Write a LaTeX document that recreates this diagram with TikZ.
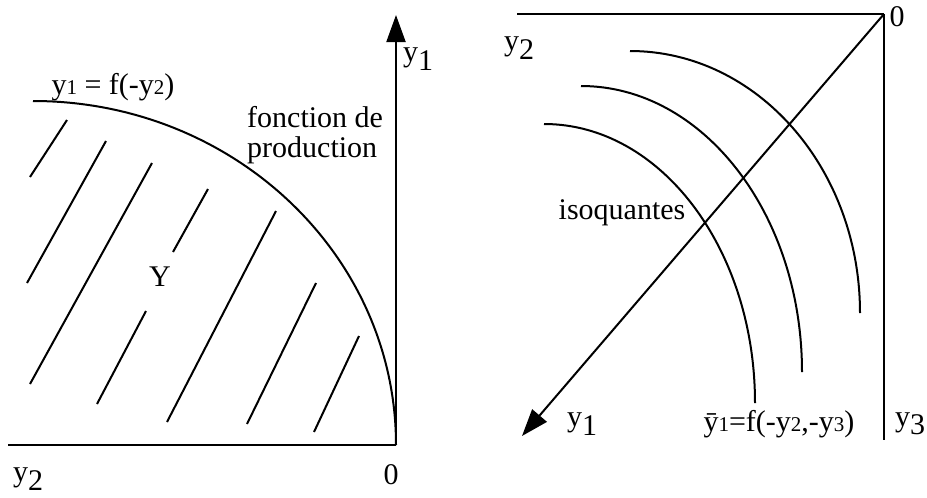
\documentclass[tikz,border=0pt]{standalone}
\usepackage{fontspec}
\setmainfont{Liberation Serif}
\usetikzlibrary{arrows.meta}
\newcommand{\petit}[1]{{\fontsize{21}{21}\selectfont #1}}
\newcommand{\indice}[1]{\raisebox{-0.6ex}{#1}}
\begin{document}
\begin{tikzpicture}[x=1pt, y=-1pt, every node/.style={font=\fontsize{30}{30}\selectfont, inner sep=0pt}]
\tikzset{trait/.style={line width=2pt},
  fleche/.style={trait,-{Triangle[length=27pt,width=19pt]}},
  etiquette/.style={anchor=center}}
\useasboundingbox (0,0) rectangle (927,498);
% ensemble de production
\coordinate (O1) at (396,445);
\coordinate (haut1) at (396,15);
\coordinate (gauche1) at (8,445);
\draw[fleche] (O1) -- (haut1);
\draw[trait] (O1) -- (gauche1);
\draw[trait] (33,101) arc[start angle=-90, end angle=0, x radius=363, y radius=344];
\foreach \a/\b in {{30,177}/{67,120}, {27,283}/{106,141}, {30,384}/{152,163},
  {173,252}/{208,189}, {97,404}/{146,311}, {167,422}/{276,211},
  {247,424}/{316,283}, {314,432}/{359,336}}
  \draw[trait] (\a) -- (\b);
\node[etiquette] (ya) at (418,59) {y\indice{1}};
\node[etiquette] (front) at (113,87) {y\petit{1} = f(-y\petit{2})};
\node[anchor=north west, align=left] (fonc) at (247,106.5) {fonction de\\production};
\node[etiquette] (ens) at (160,277) {Y};
\node[etiquette] (yb) at (28,479) {y\indice{2}};
\node[etiquette] (zero1) at (391,475) {0};
% isoquantes
\coordinate (O2) at (884,14);
\coordinate (gauche2) at (517,14);
\coordinate (bas2) at (884,440);
\coordinate (diag) at (522,436);
\draw[trait] (O2) -- (gauche2);
\draw[trait] (O2) -- (bas2);
\draw[fleche] (O2) -- (diag);
\draw[trait] (630,51) arc[start angle=-90, end angle=0, x radius=230, y radius=262];
\draw[trait] (581,86) arc[start angle=-90, end angle=0, x radius=221, y radius=286];
\draw[trait] (544,124) arc[start angle=-90, end angle=0, x radius=211, y radius=279];
\node[etiquette] (zero2) at (897,17) {0};
\node[etiquette] (yc) at (519,48) {y\indice{2}};
\node[etiquette] (iso) at (622,213) {isoquantes};
\node[etiquette] (yd) at (582,424) {y\indice{1}};
\node[etiquette] (formule) at (779,424) {\=y\petit{1}=f(-y\petit{2},-y\petit{3})};
\node[etiquette] (ye) at (910,424) {y\indice{3}};
\end{tikzpicture}
\end{document}
